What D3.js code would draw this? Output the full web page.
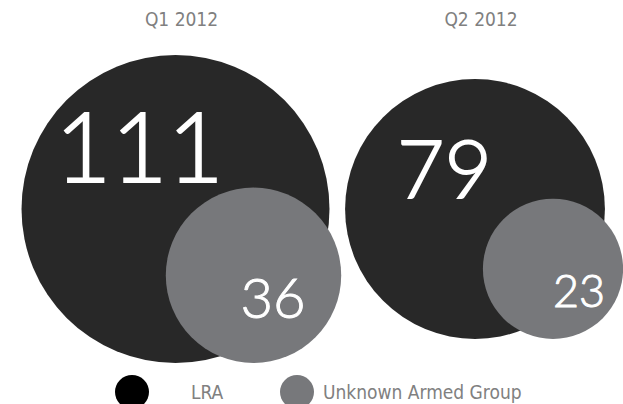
<!DOCTYPE html>
<html>
<head>
<meta charset="utf-8">
<script src="https://cdn.jsdelivr.net/npm/d3@7"></script>
<style>
  body { margin: 0; background: #fff; }
  text { font-family: "DejaVu Sans Condensed", "DejaVu Sans", sans-serif; font-stretch: condensed; }
  text.num { font-family: Lato, "DejaVu Sans", sans-serif; font-stretch: normal; font-weight: 300; stroke: #fff; }
</style>
</head>
<body>
<div id="chart"></div>
<script>
/* Bubble comparison: LRA vs unknown armed group */

const quarters = ["Q1 2012", "Q2 2012"];
const lra = [111, 79];
const unknown = [36, 23];
const groups = ["LRA", "Unknown Armed Group"];

const width = 623, height = 404;
const dark = "#282828", grey = "#77787b", labelGrey = "#808080";

const svg = d3.select("#chart")
    .append("svg")
    .attr("width", width)
    .attr("height", height);

let x = d3.scalePoint()
    .domain(quarters)
    .range([175.5, 475]);

let r = d3.scaleSqrt()
    .domain([0, d3.max(lra)])
    .range([0, 154]);

const cy = 209;

let rows = quarters.map((q, i) => ({ q, big: lra[i], small: unknown[i] }));

// quarter titles
svg.selectAll(".title")
    .data(rows)
    .join("text")
    .attr("class", "title")
    .attr("x", d => x(d.q) + 6)
    .attr("y", 26)
    .attr("text-anchor", "middle")
    .attr("fill", labelGrey)
    .style("font-size", "19px")
    .text(d => d.q);

// LRA circles
svg.selectAll(".big")
    .data(rows)
    .join("circle")
    .attr("class", "big")
    .attr("cx", d => x(d.q))
    .attr("cy", cy)
    .attr("r", d => r(d.big))
    .attr("fill", dark);

// unknown group circles, sitting on the bottom of the LRA circle
svg.selectAll(".small")
    .data(rows)
    .join("circle")
    .attr("class", "small")
    .attr("cx", d => x(d.q) + 78)
    .attr("cy", d => cy + r(d.big) - r(d.small))
    .attr("r", d => r(d.small))
    .attr("fill", grey);

// value labels
svg.selectAll(".bigLabel")
    .data(rows)
    .join("text")
    .attr("class", "bigLabel num")
    .attr("x", d => x(d.q) - 0.235 * r(d.big))
    .attr("y", (d, i) => cy - [27, 11][i])
    .attr("text-anchor", "middle")
    .attr("fill", "#fff")
    .attr("stroke-width", 1.8)
    .style("font-size", d => 0.63 * r(d.big) + "px")
    .text(d => d.big);

svg.selectAll(".smallLabel")
    .data(rows)
    .join("text")
    .attr("class", "smallLabel num")
    .attr("x", d => x(d.q) + 78 + 52)
    .attr("y", (d, i) => cy + r(d.big) - r(d.small) + [42.5, 38.5][i])
    .attr("text-anchor", "end")
    .attr("fill", "#fff")
    .attr("stroke-width", 1)
    .style("font-size", d => 0.64 * r(d.small) + "px")
    .text(d => d.small);

// legend
const legend = svg.append("g");
const legendX = [132, 297];
legend.selectAll("circle")
    .data(groups)
    .join("circle")
    .attr("cx", (d, i) => legendX[i])
    .attr("cy", 392)
    .attr("r", 17)
    .attr("fill", (d, i) => i ? grey : "#000");

legend.selectAll("text")
    .data(groups)
    .join("text")
    .attr("x", (d, i) => i ? 323 : 191)
    .attr("y", 399)
    .attr("fill", labelGrey)
    .style("font-size", "19px")
    .text(d => d);
</script>
</body>
</html>
